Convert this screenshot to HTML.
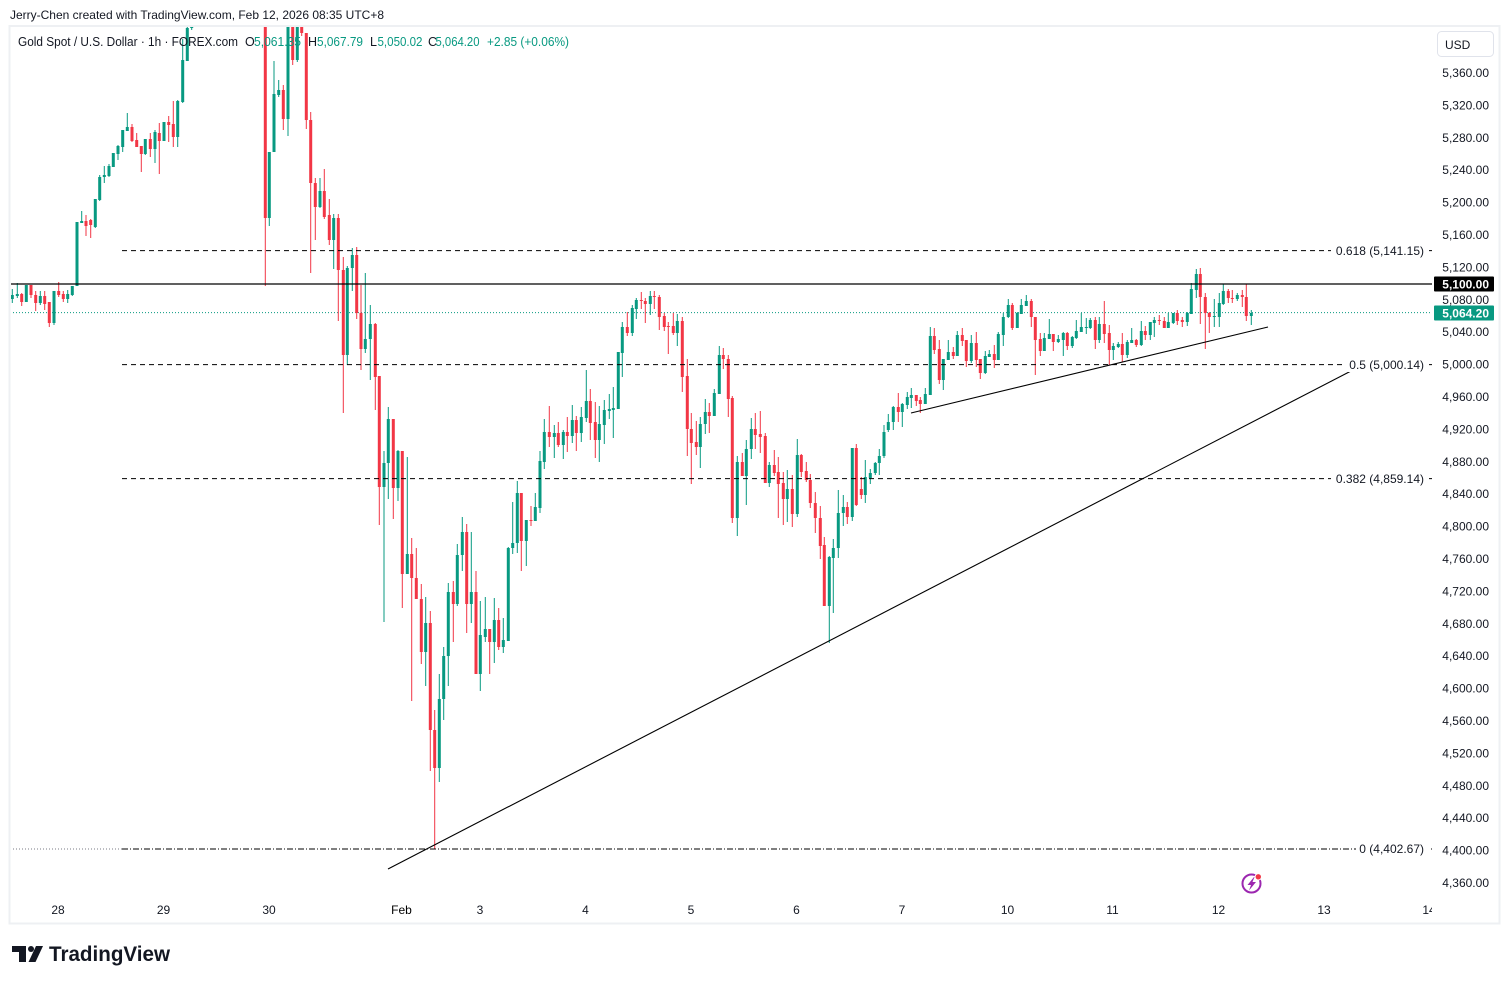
<!DOCTYPE html>
<html>
<head>
<meta charset="utf-8">
<style>
html,body{margin:0;padding:0;background:#fff;}
body{width:1509px;height:984px;overflow:hidden;}
svg{display:block;font-family:"Liberation Sans",Arial,sans-serif;}
</style>
</head>
<body>
<svg width="1509" height="984" viewBox="0 0 1509 984" xmlns="http://www.w3.org/2000/svg">
<defs>
<clipPath id="pane"><rect x="11" y="27" width="1421" height="870"/></clipPath>
<clipPath id="taxis"><rect x="11" y="897" width="1421" height="25"/></clipPath>
</defs>
<rect x="0" y="0" width="1509" height="984" fill="#fff"/>
<!-- frame -->
<rect x="9.5" y="26" width="1490" height="897.5" fill="none" stroke="#eef0f3" stroke-width="2"/>

<!-- header -->
<text x="10" y="19" font-size="12" fill="#131722" textLength="374" lengthAdjust="spacingAndGlyphs">Jerry-Chen created with TradingView.com, Feb 12, 2026 08:35 UTC+8</text>

<g clip-path="url(#pane)">
<!-- last price dotted -->
<line x1="10" y1="312.6" x2="1432" y2="312.6" stroke="#089981" stroke-width="1" stroke-dasharray="1 2"/>
<!-- dotted left part of 0 level -->
<line x1="10" y1="849" x2="122" y2="849" stroke="#787b86" stroke-width="1" stroke-dasharray="1 2"/>

<!-- candles -->
<g fill="none">
<path stroke="#089981" stroke-width="1" d="M12.3 289V303M17.3 283V298M26.3 285V302M40.3 291V305M54 291V325M67.7 290V303M72.3 286V296M77 222V286M81.7 211V223M95.3 199V228M99.7 175V201M104.3 166V183M109 164V177M113.3 153V167M118 145V160M122.7 130V152M127.3 113V131M145.3 139V155M155 130V163M164 122V141M177.7 100V147M182.7 39V103M187.3 20V61M191.7 5V30M269.3 152V226M274 61V152M278.7 80V97M288 0V136M297.3 0V62M320 178V208M333.7 214V269M347.3 266V365M352.3 248V291M365.3 273V353M370.3 305V380M384 451V622M388.3 407V499M398 450V501M407.3 457V574M425.7 597V686M439.3 674V782M443.7 647V720M448.3 583V686M457.3 544V606M462.3 517V571M471.3 532V623M480.3 601V691M485.3 597V642M494.3 598V663M503.3 618V653M508.3 547V641M512.7 502V554M517.3 481V553M526.3 520V566M535.3 493V521M540 451V513M544.3 419V469M554.3 425V458M563.3 430V459M572.3 405V443M581.3 407V442M586.3 370V422M599.3 406V462M604.3 400V444M609.3 394V419M613.3 387V438M618.3 352V409M622.3 322V377M632.3 305V336M636.3 298V319M650.3 291V315M677.3 314V346M700.3 417V468M705.3 399V434M714.3 389V416M719.3 346V394M737.3 456V536M746.3 440V505M751.3 418V459M769.3 462V487M787.3 470V522M797.3 439V517M829.3 556V643M833.3 539V613M838.3 490V558M843.3 495V526M852.3 448V521M865.3 460V503M870.3 469V484M875.3 462V475M879.3 449V475M884 425V458M888.3 414V432M893.3 406V430M902.3 403V427M907.3 392V409M911.3 388V408M925.3 388V404M930.3 327V395M943.3 359V390M948.3 340V360M957.3 331V356M971.3 335V363M985.3 351V374M989.3 350V357M998.3 332V360M1003.3 313V346M1008.3 299V318M1017.3 312V328M1021.3 299V314M1026.3 295V306M1044.3 333V351M1049.3 319V339M1058.3 335V343M1063.3 332V356M1072.3 336V348M1076.3 320V339M1081.3 313V332M1086.3 318V334M1090.3 318V329M1099.3 317V343M1113.3 343V360M1118.3 342V348M1127.3 340V358M1131.7 328V343M1141.3 321V346M1150.3 322V340M1154.3 317V337M1168.3 313V328M1173.3 313V324M1187.3 312V326M1191.3 283V314M1196.3 269V298M1214.3 299V327M1219.3 293V327M1223.3 284V305M1237.3 293V301M1251.3 310V325"/>
<path stroke="#089981" stroke-width="3" d="M12.3 295V299M17.3 294V296M26.3 285V302M40.3 296V303M54 291V323M67.7 294V299M72.3 286V295M77 222V286M81.7 221V223M95.3 199V227M99.7 177V200M104.3 175V177M109 166V176M113.3 153V167M118 146V154M122.7 130V147M127.3 127V131M145.3 139V154M155 132V149M164 122V141M177.7 101V137M182.7 60V102M187.3 28V61M191.7 10V28M269.3 152V218M274 94V152M278.7 90V95M288 0V119M297.3 0V60M320 191V207M333.7 218V240M347.3 268V355M352.3 255V268M365.3 339V349M370.3 324V339M384 463V487M388.3 419V463M398 451V488M407.3 554V574M425.7 623V652M439.3 699V768M443.7 656V699M448.3 592V656M457.3 555V604M462.3 532V555M471.3 592V604M480.3 635V674M485.3 629V637M494.3 620V642M503.3 640V647M508.3 548V641M512.7 543V548M517.3 493V543M526.3 520V541M535.3 507V521M540 461V508M544.3 432V462M554.3 433V437M563.3 432V445M572.3 420V436M581.3 417V433M586.3 401V418M599.3 424V440M604.3 410V425M609.3 409V411M613.3 408V410M618.3 352V409M622.3 327V353M632.3 308V333M636.3 300V309M650.3 296V304M677.3 321V333M700.3 424V447M705.3 412V424M714.3 393V416M719.3 355V394M737.3 462V518M746.3 449V476M751.3 429V449M769.3 465V483M787.3 489V499M797.3 455V514M829.3 557V606M833.3 548V558M838.3 513V548M843.3 507V513M852.3 448V517M865.3 477V495M870.3 473V478M875.3 463V473M879.3 456V463M884 432V456M888.3 422V430M893.3 407V422M902.3 404V412M907.3 397V405M911.3 395V398M925.3 394V404M930.3 336V395M943.3 359V380M948.3 352V360M957.3 335V356M971.3 343V361M985.3 356V373M989.3 354V357M998.3 334V360M1003.3 317V335M1008.3 305V317M1017.3 313V328M1021.3 305V314M1026.3 301V306M1044.3 338V351M1049.3 334V339M1058.3 339V342M1063.3 333V340M1072.3 337V346M1076.3 331V338M1081.3 327V332M1086.3 327V328M1090.3 320V328M1099.3 324V340M1113.3 346V350M1118.3 344V347M1127.3 342V355M1131.7 340V343M1141.3 331V345M1150.3 322V335M1154.3 320V323M1168.3 322V328M1173.3 313V323M1187.3 313V322M1191.3 289V314M1196.3 274V290M1214.3 316V317M1219.3 303V317M1223.3 291V304M1237.3 295V299M1251.3 313V316"/>
<path stroke="#f23645" stroke-width="1" d="M21.7 293V306M31 285V298M35.7 291V311M44.7 291V310M49.3 302V327M58.7 282V297M63.3 291V302M86 215V236M90.7 219V238M132 124V142M136.7 133V147M141.3 146V172M150.3 133V157M159.3 123V174M168.7 116V142M173.3 101V147M265.3 0V286M283.3 85V130M292.7 0V65M301.7 0V36M306.3 33V129M310.7 112V273M315.3 178V240M324.3 169V219M329.3 199V245M338.3 214V321M343.3 257V413M356.7 247V319M361 285V370M375.3 323V410M379.3 376V525M393.3 419V519M402.3 451V608M411.7 538V701M416.3 548V599M421.3 584V664M430.3 611V771M434.7 710V849M453.3 581V642M466.7 524V633M476 571V674M489.7 629V674M498.7 608V650M521.3 493V571M531 506V526M549.3 406V447M558.3 422V447M567.3 417V452M576.3 416V451M590.3 389V440M595.3 402V458M627.3 312V336M641.3 292V309M645.3 298V323M654.3 291V309M659.3 295V330M664.3 313V331M668.3 322V354M673.3 313V335M682.3 317V392M687.3 359V456M691.3 413V484M696.3 421V455M709.3 403V433M723.3 348V369M728.3 355V417M732.3 396V523M742.3 453V476M755.3 413V449M760.3 411V453M765.3 433V483M774.3 450V476M778.3 457V518M783.3 472V525M792.3 475V527M801.3 454V477M806.3 462V482M810.3 474V508M815.3 492V533M820.3 506V559M824.3 537V606M847.3 502V524M856.3 444V506M861.3 477V499M898.3 393V422M916.3 395V406M920.3 397V413M934.3 328V354M939.3 340V384M953.3 347V359M962.3 328V346M966.3 340V367M976.3 332V367M980.3 359V379M994.3 345V368M1012.3 303V330M1031.3 299V327M1035.3 317V375M1040.3 333V356M1053.3 334V351M1067.3 332V350M1095.3 317V349M1104.3 301V343M1109.3 325V365M1122.3 333V362M1136.3 339V347M1145.3 326V340M1159.3 315V325M1164.3 317V328M1177.3 310V325M1182.3 317V327M1200.3 268V324M1205.3 293V349M1209.3 312V333M1228.3 289V303M1232.3 290V303M1242.3 290V307M1246.3 284V321"/>
<path stroke="#f23645" stroke-width="3" d="M21.7 294V302M31 285V295M35.7 295V303M44.7 296V304M49.3 302V323M58.7 291V295M63.3 294V299M86 221V226M90.7 220V225M132 127V141M136.7 140V147M141.3 146V154M150.3 139V149M159.3 133V141M168.7 122V125M173.3 124V137M265.3 0V218M283.3 90V119M292.7 0V60M301.7 20V33M306.3 33V120M310.7 120V183M315.3 183V207M324.3 191V217M329.3 215V240M338.3 218V270M343.3 270V355M356.7 255V313M361 313V349M375.3 324V377M379.3 376V487M393.3 419V488M402.3 451V574M411.7 554V578M416.3 578V599M421.3 599V652M430.3 623V730M434.7 730V768M453.3 592V604M466.7 532V604M476 592V674M489.7 629V642M498.7 620V647M521.3 493V541M531 520V521M549.3 432V437M558.3 433V445M567.3 432V436M576.3 420V433M590.3 401V423M595.3 422V440M627.3 327V333M641.3 300V301M645.3 301V304M654.3 296V297M659.3 297V317M664.3 316V327M668.3 326V327M673.3 326V333M682.3 321V377M687.3 376V429M691.3 429V443M696.3 442V447M709.3 412V416M723.3 355V359M728.3 359V399M732.3 398V518M742.3 462V476M755.3 429V435M760.3 434V437M765.3 436V483M774.3 465V473M778.3 472V484M783.3 483V499M792.3 489V514M801.3 455V472M806.3 471V480M810.3 480V503M815.3 503V518M820.3 518V546M824.3 545V606M847.3 507V517M856.3 448V505M861.3 489V495M898.3 407V412M916.3 395V401M920.3 400V404M934.3 336V350M939.3 349V380M953.3 352V356M962.3 335V341M966.3 340V361M976.3 343V360M980.3 359V373M994.3 354V360M1012.3 305V328M1031.3 301V317M1035.3 317V340M1040.3 339V351M1053.3 334V342M1067.3 333V346M1095.3 320V340M1104.3 324V334M1109.3 333V350M1122.3 344V355M1136.3 340V345M1145.3 331V335M1159.3 320V321M1164.3 321V328M1177.3 313V321M1182.3 320V322M1200.3 274V297M1205.3 297V313M1209.3 313V317M1228.3 291V298M1232.3 298V299M1242.3 295V297M1246.3 297V316"/>
</g>

<!-- horizontal 5100 line -->
<line x1="10" y1="284" x2="1432" y2="284" stroke="#000" stroke-width="1.2"/>
<!-- fib lines -->
<g stroke="#000" stroke-width="1" fill="none">
<line x1="122" y1="250.6" x2="1433" y2="250.6" stroke-dasharray="5 4"/>
<line x1="122" y1="364.6" x2="1433" y2="364.6" stroke-dasharray="5 4"/>
<line x1="122" y1="478.6" x2="1433" y2="478.6" stroke-dasharray="5 4"/>
<line x1="122" y1="849" x2="1433" y2="849" stroke-dasharray="6 2 1 2"/>
</g>
<!-- trendlines -->
<line x1="388" y1="869" x2="1351" y2="371" stroke="#000" stroke-width="1.1"/>
<line x1="911" y1="413" x2="1268" y2="327" stroke="#000" stroke-width="1.1"/>

<!-- fib labels -->
<g font-size="12" fill="#131722" text-anchor="end">
<rect x="1331" y="243" width="98" height="15" fill="#fff"/>
<text x="1424" y="255">0.618 (5,141.15)</text>
<rect x="1344" y="357" width="85" height="15" fill="#fff"/>
<text x="1424" y="369">0.5 (5,000.14)</text>
<rect x="1331" y="471" width="98" height="15" fill="#fff"/>
<text x="1424" y="483">0.382 (4,859.14)</text>
<rect x="1356" y="841" width="73" height="15" fill="#fff"/>
<text x="1424" y="853">0 (4,402.67)</text>
</g>

<!-- lightning icon -->
<circle cx="1251.5" cy="883.5" r="9" fill="#fff" stroke="#9c27b0" stroke-width="2"/>
<polygon points="1254,877 1247.5,885 1251,885 1249,890.5 1256,882 1252.5,882 1254.5,877" fill="#9c27b0"/>
<circle cx="1258.3" cy="876.8" r="3.2" fill="#f23645" stroke="#fff" stroke-width="1"/>
</g>

<!-- legend -->
<g font-size="12.5">
<text x="18" y="46" fill="#131722" textLength="220" lengthAdjust="spacingAndGlyphs">Gold Spot / U.S. Dollar · 1h · FOREX.com</text>
<text x="245" y="46" fill="#131722">O</text>
<text x="254" y="46" fill="#089981" textLength="47" lengthAdjust="spacingAndGlyphs">5,061.35</text>
<text x="308" y="46" fill="#131722">H</text>
<text x="317" y="46" fill="#089981" textLength="46" lengthAdjust="spacingAndGlyphs">5,067.79</text>
<text x="370" y="46" fill="#131722">L</text>
<text x="377.5" y="46" fill="#089981" textLength="45" lengthAdjust="spacingAndGlyphs">5,050.02</text>
<text x="428" y="46" fill="#131722">C</text>
<text x="435.5" y="46" fill="#089981" textLength="44" lengthAdjust="spacingAndGlyphs">5,064.20</text>
<text x="487" y="46" fill="#089981" textLength="82" lengthAdjust="spacingAndGlyphs">+2.85 (+0.06%)</text>
</g>

<!-- USD box -->
<rect x="1437.5" y="31.5" width="56" height="25" rx="4" fill="#fff" stroke="#e0e3eb" stroke-width="1"/>
<text x="1445" y="49" font-size="12" fill="#131722">USD</text>

<!-- price axis labels -->
<g font-size="12" fill="#131722" text-anchor="end">
<text x="1489" y="77">5,360.00</text>
<text x="1489" y="109.4">5,320.00</text>
<text x="1489" y="141.8">5,280.00</text>
<text x="1489" y="174.2">5,240.00</text>
<text x="1489" y="206.6">5,200.00</text>
<text x="1489" y="239">5,160.00</text>
<text x="1489" y="271.4">5,120.00</text>
<text x="1489" y="303.8">5,080.00</text>
<text x="1489" y="336.2">5,040.00</text>
<text x="1489" y="368.6">5,000.00</text>
<text x="1489" y="401">4,960.00</text>
<text x="1489" y="433.4">4,920.00</text>
<text x="1489" y="465.8">4,880.00</text>
<text x="1489" y="498.2">4,840.00</text>
<text x="1489" y="530.6">4,800.00</text>
<text x="1489" y="563">4,760.00</text>
<text x="1489" y="595.4">4,720.00</text>
<text x="1489" y="627.8">4,680.00</text>
<text x="1489" y="660.2">4,640.00</text>
<text x="1489" y="692.6">4,600.00</text>
<text x="1489" y="725">4,560.00</text>
<text x="1489" y="757.4">4,520.00</text>
<text x="1489" y="789.8">4,480.00</text>
<text x="1489" y="822.2">4,440.00</text>
<text x="1489" y="854.6">4,400.00</text>
<text x="1489" y="887">4,360.00</text>
</g>
<!-- price tags -->
<rect x="1434" y="276.5" width="60" height="15" rx="1" fill="#000"/>
<text x="1489" y="288.5" font-size="12" font-weight="bold" fill="#fff" text-anchor="end">5,100.00</text>
<rect x="1434" y="305.5" width="60" height="15" rx="1" fill="#089981"/>
<text x="1489" y="317.5" font-size="12" font-weight="bold" fill="#fff" text-anchor="end">5,064.20</text>

<!-- time axis -->
<g font-size="12" fill="#131722" text-anchor="middle" clip-path="url(#taxis)">
<text x="58" y="914">28</text>
<text x="163.5" y="914">29</text>
<text x="269" y="914">30</text>
<text x="401.5" y="914" fill="#000">Feb</text>
<text x="480" y="914">3</text>
<text x="585.5" y="914">4</text>
<text x="691" y="914">5</text>
<text x="796.5" y="914">6</text>
<text x="902" y="914">7</text>
<text x="1007.5" y="914">10</text>
<text x="1112.5" y="914">11</text>
<text x="1218.5" y="914">12</text>
<text x="1324" y="914">13</text>
<text x="1429" y="914">14</text>
</g>

<!-- TradingView logo -->
<g fill="#131722">
<rect x="12" y="946" width="14" height="6"/>
<rect x="19" y="946" width="7" height="16"/>
<circle cx="31" cy="949" r="3"/>
<polygon points="36,946 43,946 35.5,962 28.5,962"/>
<text x="49" y="961" font-size="21" font-weight="bold" textLength="121" lengthAdjust="spacingAndGlyphs">TradingView</text>
</g>
</svg>
</body>
</html>
